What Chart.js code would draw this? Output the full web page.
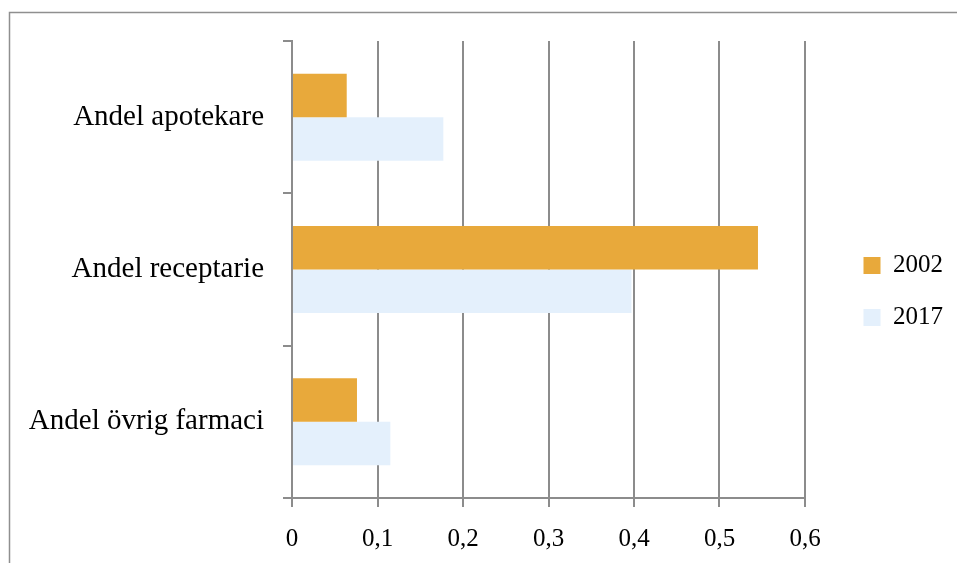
<!DOCTYPE html>
<html lang="sv">
<head>
<meta charset="utf-8">
<title>Andel apotekare, receptarie och övrig farmaci 2002 och 2017</title>
<script src="https://cdn.jsdelivr.net/npm/chart.js@4/dist/chart.umd.min.js"></script>
<style>
  html, body { margin: 0; padding: 0; background: #ffffff; }
  canvas { display: block; }
</style>
</head>
<body>
<canvas id="chart" width="957" height="563"></canvas>
<script>
// Categories and series
const categories = ['Andel apotekare', 'Andel receptarie', 'Andel övrig farmaci'];
const seriesNames = ['2002', '2017'];
const values2002 = [0.064, 0.545, 0.076];
const values2017 = [0.177, 0.397, 0.115];
const xTickLabels = ['0', '0,1', '0,2', '0,3', '0,4', '0,5', '0,6'];

const FONT = '"Liberation Serif", "Times New Roman", serif';
const GRID = '#8c8c8c';

// Thin grey frame around the whole figure (left and top edges)
const framePlugin = {
  id: 'figureFrame',
  beforeDraw(chart) {
    const ctx = chart.ctx;
    ctx.save();
    ctx.strokeStyle = '#8f8f8f';
    ctx.lineWidth = 1.5;
    ctx.beginPath();
    ctx.moveTo(9.5, chart.height);
    ctx.lineTo(9.5, 12.5);
    ctx.lineTo(chart.width, 12.5);
    ctx.stroke();
    ctx.restore();
  }
};

// Empty spacer axes that only reserve room in the layout
const spacer = (position, size) => ({
  type: 'linear',
  position,
  display: true,
  grid: { display: false },
  ticks: { display: false },
  border: { display: false },
  afterFit: s => {
    if (position === 'top' || position === 'bottom') { s.height = size; } else { s.width = size; }
  }
});

new Chart(document.getElementById('chart'), {
  type: 'bar',
  data: {
    labels: categories,
    datasets: [
      {
        label: seriesNames[0],
        data: values2002,
        backgroundColor: '#e8a93b',
        categoryPercentage: 0.571,
        barPercentage: 1.0
      },
      {
        label: seriesNames[1],
        data: values2017,
        backgroundColor: '#e4f0fc',
        categoryPercentage: 0.571,
        barPercentage: 1.0
      }
    ]
  },
  options: {
    indexAxis: 'y',
    responsive: false,
    animation: false,
    layout: { padding: { left: 9, top: 20, right: 4, bottom: 0 } },
    scales: {
      x: {
        type: 'linear',
        min: 0,
        max: 0.6,
        ticks: {
          stepSize: 0.1,
          color: '#000',
          font: { family: FONT, size: 25 },
          padding: 17,
          callback: (value, index) => xTickLabels[index]
        },
        grid: { color: GRID, lineWidth: 2, tickLength: 9 },
        border: { color: GRID, width: 2 },
        afterFit: s => { s.height = 65; }
      },
      y: {
        type: 'category',
        ticks: {
          color: '#000',
          font: { family: FONT, size: 29 },
          padding: 19
        },
        grid: { drawOnChartArea: false, color: GRID, lineWidth: 2, tickLength: 9 },
        border: { color: GRID, width: 2 },
        afterFit: s => { s.width = 283; }
      },
      topGap: Object.assign(spacer('top', 21), { axis: 'x' }),
      legendGap: Object.assign(spacer('right', 31.5), { axis: 'y' })
    },
    plugins: {
      legend: {
        position: 'right',
        labels: {
          color: '#000',
          font: { family: FONT, size: 25 },
          boxWidth: 17,
          boxHeight: 17,
          padding: 27
        }
      },
      tooltip: { enabled: false }
    }
  },
  plugins: [framePlugin]
});
</script>
</body>
</html>
